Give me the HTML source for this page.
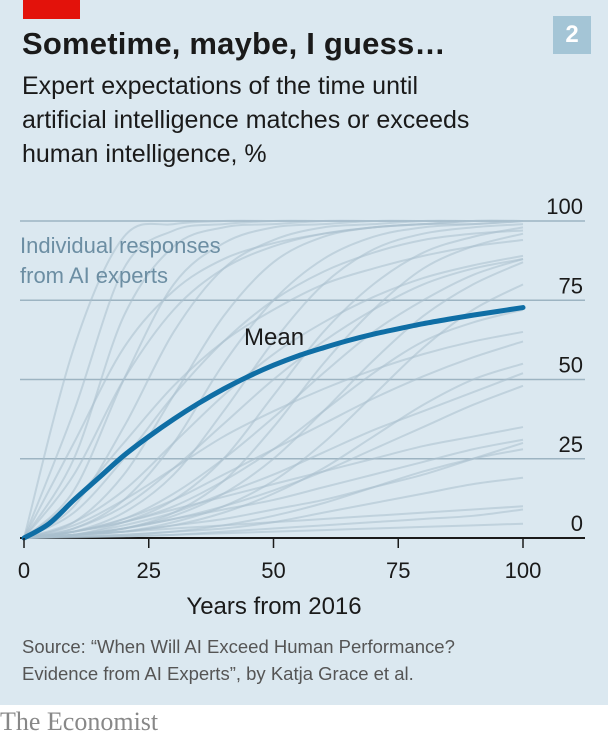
<!DOCTYPE html>
<html><head><meta charset="utf-8"><style>
body{margin:0;width:608px;height:739px;background:#fff;overflow:hidden;font-family:"Liberation Sans",sans-serif}
#panel{position:absolute;left:0;top:0;width:608px;height:705px;background:#dbe8f0}
.t{position:absolute;white-space:nowrap}
</style></head><body>
<div id="panel">
<div class="t" style="left:23px;top:0;width:57px;height:19px;background:#e3120b"></div>
<div class="t" style="left:553px;top:16px;width:38px;height:38px;background:#a4c5d6;color:#fff;font-weight:bold;font-size:24px;text-align:center;line-height:38px">2</div>
<div class="t" style="left:22px;top:26px;font-size:31px;font-weight:bold;color:#1a1a1a;letter-spacing:0.2px">Sometime, maybe, I guess…</div>
<div class="t" style="left:22px;top:69px;font-size:25px;line-height:34px;color:#1a1a1a;white-space:normal;width:580px">Expert expectations of the time until<br>artificial intelligence matches or exceeds<br>human intelligence, %</div>
<svg id="chart" width="608" height="705" style="position:absolute;left:0;top:0"></svg>
<div class="t" style="left:22px;top:633px;font-size:18.5px;line-height:27px;color:#555">Source: “When Will AI Exceed Human Performance?<br>Evidence from AI Experts”, by Katja Grace et al.</div>
</div>
<div class="t" style="left:0;top:707px;font-family:'Liberation Serif',serif;font-size:26px;color:#888">The Economist</div>
<script>
const xTicks=[0,25,50,75,100];
const yTicks=[0,25,50,75,100];
const meanX=[0,5,10,15,20,25,30,35,40,45,50,55,60,65,70,75,80,85,90,95,100];
const meanY=[0,4.5,12,19,26,32,37.5,42.5,47,51,54.5,57.5,60,62.3,64.3,66,67.6,69,70.3,71.5,72.7];
const indX=[0,10,20,30,40,50,60,70,80,90,100];
const individuals=[
[0,60,95,99,100,100,100,100,100,100,100],
[0,40,85,97,99,100,100,100,100,100,100],
[0,25,70,92,98,99,100,100,100,100,100],
[0,15,50,80,93,98,99,100,100,100,100],
[0,10,35,65,85,94,98,99,100,100,100],
[0,5,20,45,70,87,95,98,99,100,100],
[0,3,12,30,55,75,88,95,98,99,100],
[0,2,8,20,40,62,80,91,96,98,99],
[0,1,5,12,25,45,65,80,90,95,98],
[0,1,3,8,18,35,55,72,85,92,96],
[0,30,60,78,88,93,96,98,99,99,100],
[0,8,25,45,62,75,84,90,94,96,97],
[0,5,15,30,45,58,68,76,82,86,89],
[0,3,10,22,36,50,62,72,80,85,88],
[0,2,6,14,25,38,52,65,75,83,88],
[0,1,3,7,14,25,40,56,70,80,87],
[0,1,2,5,10,18,30,45,60,72,80],
[0,4,12,22,32,40,47,53,58,62,65],
[0,2,6,12,20,28,36,44,51,57,62],
[0,1,4,8,14,20,27,34,40,46,52],
[0,1,3,6,10,15,21,28,35,42,48],
[0,2,5,9,13,17,21,25,29,32,35],
[0,1,3,6,9,12,16,20,24,28,31],
[0,1,2,4,6,9,12,16,20,25,30],
[0,0.5,1,2,4,7,11,16,21,25,28],
[0,0.5,1,2,3,5,8,11,14,17,19],
[0,0.3,0.6,1,2,3,4,5,6,7,9],
[0,0.2,0.5,1,1.5,2,2.5,3,3.5,4,4.5],
[0,1,2,3,4,5,6,7,8,9,10],
[0,12,30,48,62,72,80,85,89,92,94],
[0,20,50,72,85,92,96,98,99,100,100],
[0,2,5,10,18,28,40,52,62,68,72],
[0,1,2,4,8,14,22,32,42,50,55]
];
const NS="http://www.w3.org/2000/svg";
const svg=document.getElementById('chart');
const X0=24,X1=523,Y0=538,Y1=221;
const sx=v=>X0+(X1-X0)*v/100, sy=v=>Y0-(Y0-Y1)*v/100;
function mk(t,a){const e=document.createElementNS(NS,t);for(const k in a)e.setAttribute(k,a[k]);svg.appendChild(e);return e;}
function smooth(xs,ys){let p=xs.map((x,i)=>[sx(x),sy(ys[i])]);let d=`M${p[0][0]},${p[0][1]}`;
for(let i=0;i<p.length-1;i++){const a=p[Math.max(i-1,0)],b=p[i],c=p[i+1],e=p[Math.min(i+2,p.length-1)];
d+=` C${b[0]+(c[0]-a[0])/6},${b[1]+(c[1]-a[1])/6} ${c[0]-(e[0]-b[0])/6},${c[1]-(e[1]-b[1])/6} ${c[0]},${c[1]}`;}return d;}
yTicks.forEach(v=>{
const g=mk('line',{x1:20,x2:585,y1:sy(v),y2:sy(v),stroke:v===0?'#1a1a1a':'#9db4c2','stroke-width':v===0?2:1.5});


const t=mk('text',{x:583,y:sy(v)-7,'text-anchor':'end','font-size':22,fill:'#1a1a1a'});t.textContent=v;


});
individuals.forEach((ys,i)=>{
const p=mk('path',{d:smooth(indX,ys),fill:'none',stroke:'#a9c0cd','stroke-opacity':0.55,'stroke-width':2});


});
const m=mk('path',{d:smooth(meanX,meanY),fill:'none',stroke:'#0f6ea5','stroke-width':5,'stroke-linecap':'round'});


xTicks.forEach(v=>{
const l=mk('line',{x1:sx(v),x2:sx(v),y1:Y0,y2:Y0+10,stroke:'#1a1a1a','stroke-width':1.5});


const t=mk('text',{x:sx(v),y:578,'text-anchor':'middle','font-size':22,fill:'#1a1a1a'});t.textContent=v;


});
const xt=mk('text',{x:274,y:614,'text-anchor':'middle','font-size':24,fill:'#1a1a1a'});xt.textContent='Years from 2016';


const ml=mk('text',{x:244,y:345,'font-size':24,fill:'#1a1a1a'});ml.textContent='Mean';


['Individual responses','from AI experts'].forEach((s,i)=>{
const t=mk('text',{x:20,y:253+i*30,'font-size':22,fill:'#6c8ea3'});t.textContent=s;


});
</script>
</body></html>
